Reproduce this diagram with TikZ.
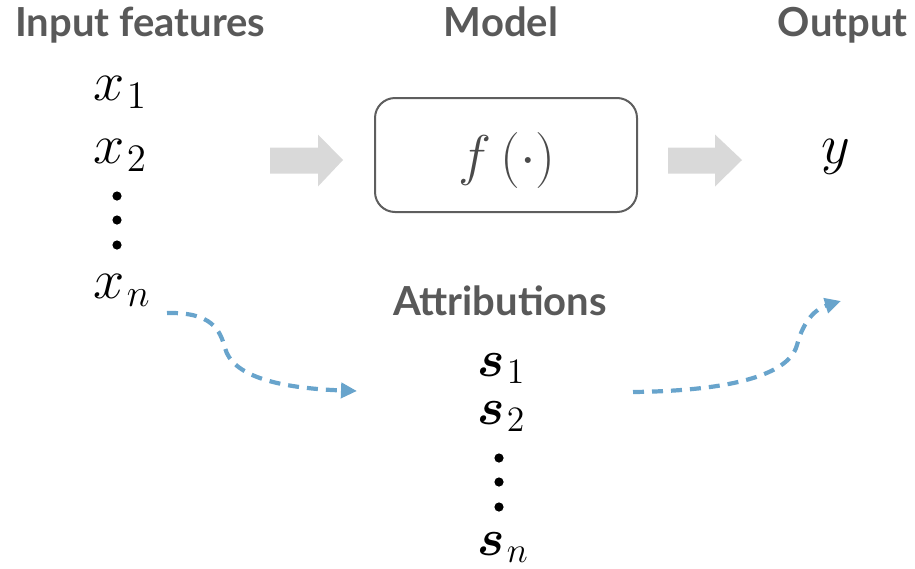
\documentclass[tikz,border=0pt]{standalone}
\usepackage{amsmath}
\usepackage{fontspec}
\setmainfont{Lato}
\usetikzlibrary{arrows.meta}
\definecolor{titlegray}{HTML}{595959}
\definecolor{boxgray}{HTML}{5E5E5E}
\definecolor{fgray}{HTML}{4A4A4A}
\definecolor{blockgray}{HTML}{D9D9D9}
\definecolor{attrblue}{RGB}{104,164,204}
\tikzset{
  title/.style={font=\fontsize{20}{24}\selectfont\bfseries, text=titlegray, inner sep=0pt},
  xmath/.style={font=\huge, scale=1.35, inner sep=0pt, anchor=base west},
  smath/.style={font=\huge, scale=1.24, inner sep=0pt, anchor=base west,
                text height=1.1ex, text depth=0.2ex},
  vdot/.style={circle, fill=black, inner sep=0pt, minimum size=4.6pt},
  modelbox/.style={draw=boxgray, line width=1pt, rounded corners=10pt},
  blockarrow/.style={fill=blockgray},
  attrlink/.style={draw=attrblue, line width=2.1pt, dash pattern=on 5.5pt off 4pt,
                   -{Triangle[length=8pt,width=7.5pt]}},
}
\begin{document}
\begin{tikzpicture}[x=0.5pt,y=-0.5pt]
\useasboundingbox (0,0) rectangle (915,568);
% titles
\node[title, anchor=base west] (tin) at (15,36) {Input features};
\node[title, anchor=base] (tmodel) at (501,36) {Model};
\node[title, anchor=base east] (tout) at (908,36) {Output};
\node[title, anchor=base] (tattr) at (500,315) {Attributions};
% inputs
\node[xmath] (x1) at (93,100) {$x_{\mkern1mu 1}$};
\node[xmath] (x2) at (93,163) {$x_{\mkern1mu 2}$};
\node[vdot] (xd1) at (117,196) {};
\node[vdot] (xd2) at (117,220) {};
\node[vdot] (xd3) at (117,245) {};
\node[xmath] (xn) at (93,298) {$x_{\mkern1mu n}$};
% model
\node[modelbox, minimum width=131pt, minimum height=57pt] (box) at (506,155) {};
\node[font=\huge, scale=1.35, text=fgray, inner sep=0pt] (f) at (507,160) {$f\left(\cdot\right)$};
% output
\node[xmath] (y) at (821,163) {$y$};
% block arrows
\fill[blockarrow] (270,147.5) -- (318,147.5) -- (318,134.5) -- (343,160) -- (318,186.5) -- (318,173.5) -- (270,173.5) -- cycle;
\fill[blockarrow] (668,147.5) -- (715,147.5) -- (715,134.5) -- (742,160) -- (715,186.5) -- (715,173.5) -- (668,173.5) -- cycle;
% attributions
\node[smath] (s1) at (477,376) {$\boldsymbol{s}_{\mkern1mu 1}$};
\node[smath] (s2) at (477,424) {$\boldsymbol{s}_{\mkern1mu 2}$};
\node[vdot] (sd1) at (499,458) {};
\node[vdot] (sd2) at (499,482) {};
\node[vdot] (sd3) at (499,507) {};
\node[smath] (sn) at (477,555) {$\boldsymbol{s}_{\mkern1mu n}$};
% dashed links
\coordinate (a1) at (167,313);
\coordinate (a2) at (357,391);
\coordinate (b1) at (633,392);
\coordinate (b2) at (841,301);
\draw[attrlink] (a1) .. controls (212,312) and (220,330) .. (225,348)
                     .. controls (232,375) and (275,388) .. (a2);
\draw[attrlink] (b1) .. controls (720,391) and (788,378) .. (797,345)
                     .. controls (804,318) and (818,308) .. (b2);
\end{tikzpicture}
\end{document}
